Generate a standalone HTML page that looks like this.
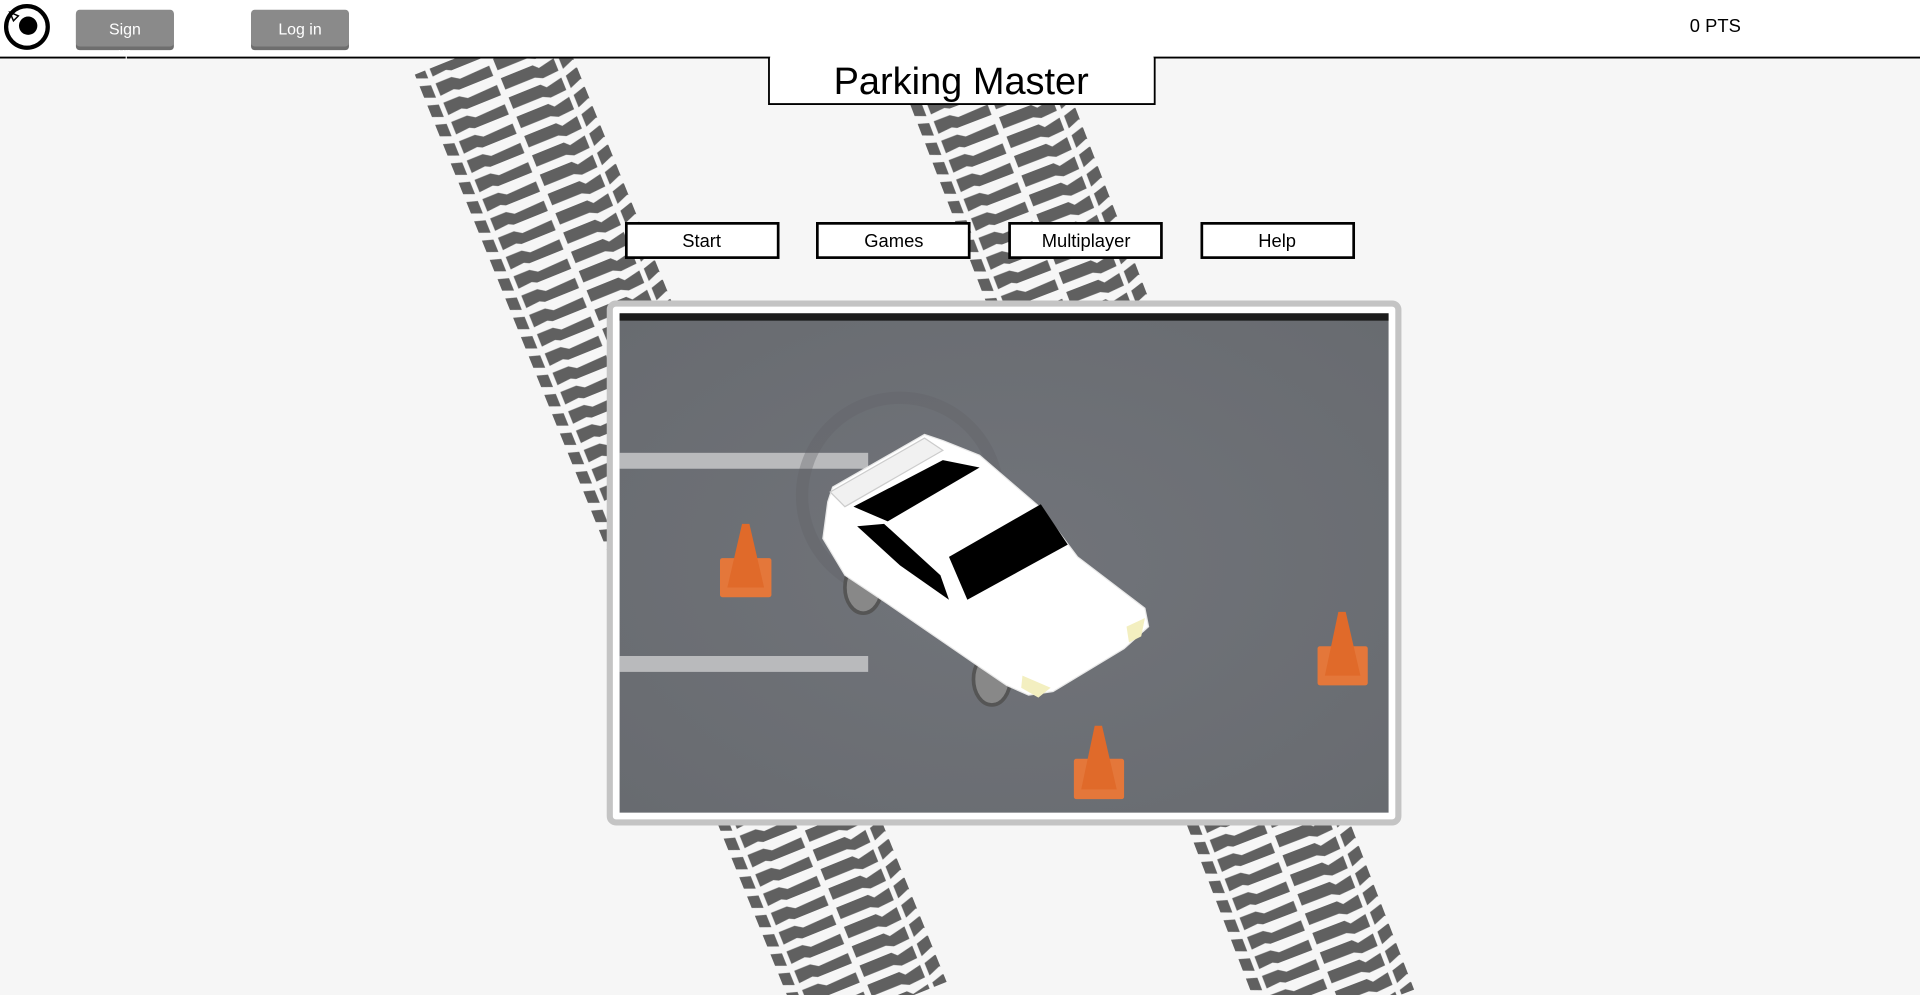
<!DOCTYPE html>
<html><head><meta charset="utf-8"><style>
html,body{margin:0;padding:0;width:1920px;height:995px;overflow:hidden;background:#f6f6f6}
svg{display:block}
text{font-family:"Liberation Sans",sans-serif}
</style></head><body>
<svg width="1920" height="995" viewBox="0 0 1568 813" preserveAspectRatio="none">
<defs>
<pattern id="tread" patternUnits="userSpaceOnUse" width="125" height="17">
<rect width="125" height="17" fill="#f6f6f6"/>
<path d="M2 2 L30 2 L34 6 L48 3 L48 14 L34 15 L28 12 L2 12 Z" fill="#606060"/>
<path d="M52 3 L62 0 L72 3 L72 14 L62 10 L52 14 Z" fill="#606060"/>
<path d="M76 3 L90 3 L96 7 L122 6 L122 15 L92 15 L88 13 L76 14 Z" fill="#606060"/>
</pattern>
<radialGradient id="ast" cx="50%" cy="50%" r="70%"><stop offset="0" stop-color="#71747a"/><stop offset="1" stop-color="#686b70"/></radialGradient>
</defs>
<rect width="1568" height="813" fill="#f6f6f6"/>
<g transform="translate(400,47) rotate(-22)"><rect x="-62" y="-10" width="125" height="850" fill="url(#tread)"/></g>
<g transform="translate(795,47) rotate(-21)"><rect x="-62" y="-10" width="125" height="850" fill="url(#tread)"/></g>
<!-- header -->
<rect x="0" y="0" width="1568" height="47" fill="#fff"/>
<line x1="0" y1="47" x2="1568" y2="47" stroke="#000" stroke-width="1.5"/>
<circle cx="22" cy="22" r="17" fill="none" stroke="#000" stroke-width="3.5"/>
<circle cx="23" cy="21" r="7.5" fill="#000"/>
<path d="M8 10 L15 13 L11 17 Z" fill="none" stroke="#000" stroke-width="1.2"/>
<rect x="62" y="9" width="80" height="32" rx="3" fill="#6e6e6e"/>
<rect x="62" y="8" width="80" height="30" rx="3" fill="#8a8a8a"/>
<text x="102" y="28" font-size="13" fill="#fff" text-anchor="middle">Sign</text>
<text x="102" y="46" font-size="10" fill="#fff" text-anchor="middle">up</text>
<rect x="205" y="9" width="80" height="32" rx="3" fill="#6e6e6e"/>
<rect x="205" y="8" width="80" height="30" rx="3" fill="#8a8a8a"/>
<text x="245" y="28" font-size="13" fill="#fff" text-anchor="middle">Log in</text>
<text x="1380" y="26" font-size="15" fill="#000">0 PTS</text>
<!-- title -->
<path d="M628 47 L628 85 L943 85 L943 47" fill="#fff" stroke="#000" stroke-width="1.5"/>
<rect x="629" y="44" width="313" height="4" fill="#fff"/>
<text x="785" y="77" font-size="31" fill="#000" text-anchor="middle">Parking Master</text>
<!-- buttons -->
<g font-size="15" text-anchor="middle" fill="#000">
<rect x="511.5" y="182.5" width="124" height="28" fill="#fff" stroke="#000" stroke-width="2.2"/><text x="573" y="202">Start</text>
<rect x="667.5" y="182.5" width="124" height="28" fill="#fff" stroke="#000" stroke-width="2.2"/><text x="730" y="202">Games</text>
<rect x="824.5" y="182.5" width="124" height="28" fill="#fff" stroke="#000" stroke-width="2.2"/><text x="887" y="202">Multiplayer</text>
<rect x="981.5" y="182.5" width="124" height="28" fill="#fff" stroke="#000" stroke-width="2.2"/><text x="1043" y="202">Help</text>
</g>
<!-- frame -->
<rect x="498" y="248" width="644" height="424" rx="5" fill="#fff" stroke="#c4c4c4" stroke-width="5"/>
<rect x="506" y="256" width="628" height="408" fill="url(#ast)"/>
<rect x="506" y="256" width="628" height="6" fill="#1c1c1c"/>
<rect x="506" y="370" width="203" height="13" fill="#b9babc"/>
<rect x="506" y="536" width="203" height="13" fill="#b9babc"/>
<circle cx="735" cy="405" r="80" fill="none" stroke="#606166" stroke-width="10" opacity="0.35"/>
<!-- car -->
<ellipse cx="705" cy="480" rx="15" ry="21" fill="#888" stroke="#555" stroke-width="3"/>
<ellipse cx="810" cy="555" rx="15" ry="21" fill="#888" stroke="#555" stroke-width="3"/>
<path d="M676 410 L680 398 L755 355 L770 360 L800 372 L850 415 L880 455 L935 497 L938 512 L918 530 L860 565 L840 568 L822 560 L800 545 L720 490 L690 470 L672 440 Z" fill="#fff" stroke="#e8e8e8" stroke-width="1"/>
<path d="M678 402 L755 358 L770 368 L690 414 Z" fill="#f1f1f1" stroke="#ccc"/>
<path d="M697 414 L770 376 L800 382 L725 426 Z" fill="#000"/>
<path d="M775 455 L850 412 L872 445 L790 490 Z" fill="#000"/>
<path d="M700 430 L722 428 L768 470 L775 490 L735 462 Z" fill="#000"/>
<path d="M835 552 L858 562 L848 570 L834 562 Z" fill="#f3efc0"/>
<path d="M920 512 L935 505 L932 520 L922 525 Z" fill="#f3efc0"/>
<!-- cones -->
<g>
<rect x="588" y="456" width="42" height="32" rx="2" fill="#e4773a"/>
<path d="M594 480 L606 428 L612 428 L624 480 Z" fill="#e06a2a"/>
<rect x="1076" y="528" width="41" height="32" rx="2" fill="#e4773a"/>
<path d="M1082 552 L1093 500 L1099 500 L1111 552 Z" fill="#e06a2a"/>
<rect x="877" y="620" width="41" height="33" rx="2" fill="#e4773a"/>
<path d="M883 645 L894 593 L900 593 L912 645 Z" fill="#e06a2a"/>
</g>
</svg>
</body></html>
